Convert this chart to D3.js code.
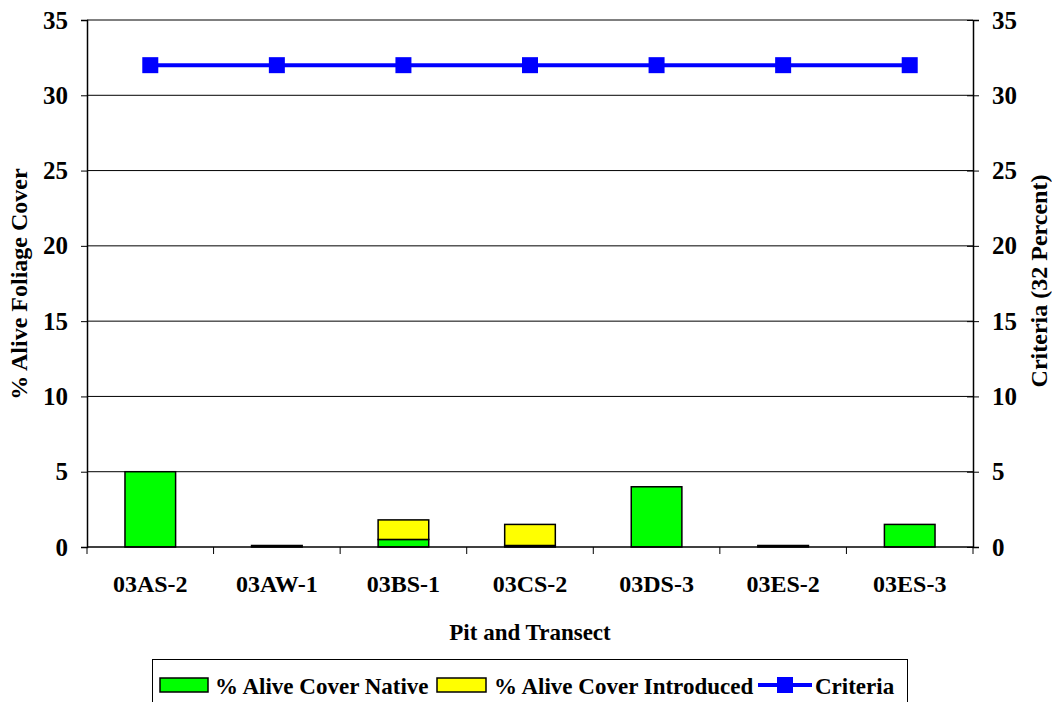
<!DOCTYPE html>
<html>
<head>
<meta charset="utf-8">
<script src="https://cdn.jsdelivr.net/npm/d3@7/dist/d3.min.js"></script>
<style>
  html, body { margin: 0; padding: 0; background: #fff; }
  svg { display: block; font-family: "Liberation Serif", "Times New Roman", serif; font-weight: bold; }
</style>
</head>
<body>
<svg id="chart" width="1052" height="702"></svg>
<script>
// Pit / transect categories and cover values (percent)
const categories = ["03AS-2", "03AW-1", "03BS-1", "03CS-2", "03DS-3", "03ES-2", "03ES-3"];
const nativeCover = [5.0, 0.1, 0.5, 0.1, 4.0, 0.1, 1.5];
const introducedCover = [0, 0, 1.3, 1.4, 0, 0, 0];
const criteria = [32, 32, 32, 32, 32, 32, 32];
const yTicks = [0, 5, 10, 15, 20, 25, 30, 35];

const svg = d3.select("#chart");
const plot = { left: 87, right: 973, top: 20, bottom: 547 };

const x = d3.scaleBand().domain(categories).range([plot.left, plot.right]).paddingInner(0.6).paddingOuter(0.3);
const xOuter = d3.scaleBand().domain(categories).range([plot.left, plot.right]);
const y = d3.scaleLinear().domain([0, 35]).range([plot.bottom, plot.top]);
const y2 = d3.scaleLinear().domain([0, 35]).range([plot.bottom, plot.top]);

// horizontal gridlines
svg.append("g").selectAll("line").data(yTicks.filter(d => d > 0)).join("line")
  .attr("x1", plot.left).attr("x2", plot.right)
  .attr("y1", d => y(d)).attr("y2", d => y(d))
  .attr("stroke", "#000").attr("stroke-width", 1);

// stacked bars
const stacked = categories.map((c, i) => ({ c, n: nativeCover[i], t: introducedCover[i] }));
const bars = svg.append("g");
bars.selectAll("rect.native").data(stacked).join("rect")
  .attr("class", "native")
  .attr("x", d => x(d.c)).attr("width", x.bandwidth())
  .attr("y", d => y(d.n)).attr("height", d => y(0) - y(d.n))
  .attr("fill", "#00FF00").attr("stroke", "#000").attr("stroke-width", 1.5);
bars.selectAll("rect.intro").data(stacked.filter(d => d.t > 0)).join("rect")
  .attr("class", "intro")
  .attr("x", d => x(d.c)).attr("width", x.bandwidth())
  .attr("y", d => y(d.n + d.t)).attr("height", d => y(d.n) - y(d.n + d.t))
  .attr("fill", "#FFFF00").attr("stroke", "#000").attr("stroke-width", 1.5);

// left axis
const leftAxis = svg.append("g").attr("transform", `translate(${plot.left},0)`)
  .call(d3.axisLeft(y).tickValues(yTicks).tickSize(6).tickPadding(13));
// right axis
const rightAxis = svg.append("g").attr("transform", `translate(${plot.right},0)`)
  .call(d3.axisRight(y2).tickValues(yTicks).tickSize(6).tickPadding(13));
[leftAxis, rightAxis].forEach(a => {
  a.select(".domain").attr("stroke", "#000").attr("stroke-width", 1.5);
  a.selectAll(".tick line").attr("stroke", "#000").attr("stroke-width", 1);
  a.selectAll("text").attr("font-size", 25).attr("font-family", "Liberation Serif").attr("font-weight", "bold").attr("fill", "#000");
});
rightAxis.selectAll(".tick line").attr("x1", -6);

// bottom axis with ticks at category boundaries
const bottom = svg.append("g");
bottom.append("line").attr("x1", plot.left).attr("x2", plot.right)
  .attr("y1", plot.bottom).attr("y2", plot.bottom).attr("stroke", "#000").attr("stroke-width", 1.5);
const boundaries = categories.map(c => xOuter(c)).concat([plot.right]);
bottom.selectAll("line.tk").data(boundaries).join("line").attr("class", "tk")
  .attr("x1", d => d).attr("x2", d => d).attr("y1", plot.bottom).attr("y2", plot.bottom + 7)
  .attr("stroke", "#000").attr("stroke-width", 1);
bottom.selectAll("text").data(categories).join("text")
  .attr("x", d => xOuter(d) + xOuter.bandwidth() / 2).attr("y", 592)
  .attr("text-anchor", "middle").attr("font-size", 24).text(d => d);

// criteria line
const line = d3.line().x((d, i) => xOuter(categories[i]) + xOuter.bandwidth() / 2).y(d => y2(d));
svg.append("path").datum(criteria).attr("d", line)
  .attr("fill", "none").attr("stroke", "#0000FF").attr("stroke-width", 4);
svg.append("g").selectAll("rect").data(criteria).join("rect")
  .attr("x", (d, i) => xOuter(categories[i]) + xOuter.bandwidth() / 2 - 8)
  .attr("y", d => y2(d) - 8).attr("width", 16).attr("height", 16).attr("fill", "#0000FF");

// axis titles
svg.append("text").attr("transform", "translate(27,284) rotate(-90)")
  .attr("text-anchor", "middle").attr("font-size", 24).text("% Alive Foliage Cover");
svg.append("text").attr("transform", "translate(1047,281) rotate(-90)")
  .attr("text-anchor", "middle").attr("font-size", 24).text("Criteria (32 Percent)");
svg.append("text").attr("x", 530).attr("y", 640)
  .attr("text-anchor", "middle").attr("font-size", 23).text("Pit and Transect");

// legend
const lg = svg.append("g");
lg.append("rect").attr("x", 152.5).attr("y", 659.5).attr("width", 755).attr("height", 44)
  .attr("fill", "#fff").attr("stroke", "#000").attr("stroke-width", 1);
lg.append("rect").attr("x", 160).attr("y", 678).attr("width", 48).attr("height", 14)
  .attr("fill", "#00FF00").attr("stroke", "#000").attr("stroke-width", 1.5);
lg.append("text").attr("x", 215).attr("y", 694).attr("font-size", 23).text("% Alive Cover Native");
lg.append("rect").attr("x", 437).attr("y", 678).attr("width", 49).attr("height", 14)
  .attr("fill", "#FFFF00").attr("stroke", "#000").attr("stroke-width", 1.5);
lg.append("text").attr("x", 494).attr("y", 694).attr("font-size", 23).text("% Alive Cover Introduced");
lg.append("line").attr("x1", 758).attr("x2", 812).attr("y1", 685).attr("y2", 685)
  .attr("stroke", "#0000FF").attr("stroke-width", 4);
lg.append("rect").attr("x", 777).attr("y", 677).attr("width", 16).attr("height", 16).attr("fill", "#0000FF");
lg.append("text").attr("x", 815).attr("y", 694).attr("font-size", 23).text("Criteria");
</script>
</body>
</html>
